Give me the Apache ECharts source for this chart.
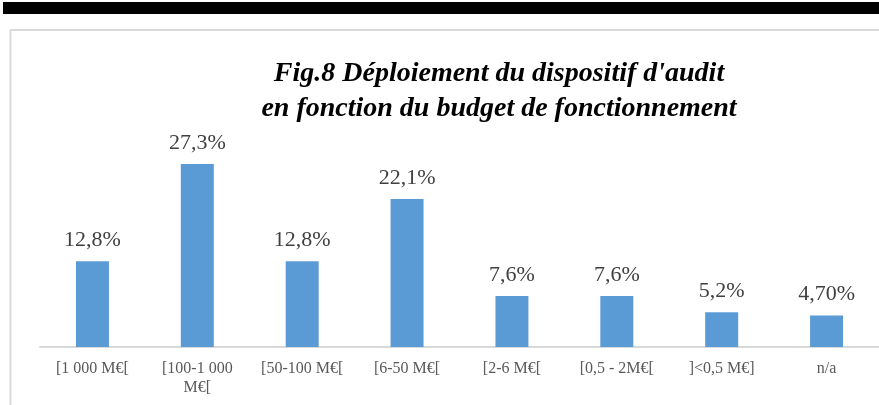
<!DOCTYPE html>
<html>
<head>
<meta charset="utf-8">
<script src="https://cdn.jsdelivr.net/npm/echarts@6/dist/echarts.min.js"></script>
<style>
  html, body { margin: 0; padding: 0; background: #ffffff; }
  #chart { width: 879px; height: 405px; }
</style>
</head>
<body>
<div id="chart"></div>
<script>
// Budget brackets (x axis tick labels)
const categories = [
  '[1 000 M€[',
  '[100-1 000\nM€[',
  '[50-100 M€[',
  '[6-50 M€[',
  '[2-6 M€[',
  '[0,5 - 2M€[',
  ']<0,5 M€]',
  'n/a'
];
// Share of respondents per bracket (%)
const values = [12.8, 27.3, 12.8, 22.1, 7.6, 7.6, 5.2, 4.7];
// Data labels as printed above each bar
const valueLabels = ['12,8%', '27,3%', '12,8%', '22,1%', '7,6%', '7,6%', '5,2%', '4,70%'];

const titleLines = [
  "Fig.8 Déploiement du dispositif d'audit",
  'en fonction du budget de fonctionnement'
];

const serif = '"Liberation Serif", "DejaVu Serif", serif';

const chart = echarts.init(document.getElementById('chart'), null, { renderer: 'canvas' });

chart.setOption({
  animation: false,
  backgroundColor: '#ffffff',
  title: {
    text: titleLines.join('\n'),
    left: 494,
    top: 51,
    textAlign: 'center',
    textStyle: {
      fontFamily: serif,
      fontSize: 28,
      fontWeight: 'bold',
      fontStyle: 'italic',
      color: '#000000',
      lineHeight: 35
    }
  },
  graphic: [
    // dark band across the top of the page
    { type: 'rect', shape: { x: 3, y: 2, width: 876, height: 12 }, style: { fill: '#000000' }, silent: true },
    // chart frame (top and left edges)
    { type: 'line', shape: { x1: 10, y1: 30, x2: 879, y2: 30 }, style: { stroke: '#d9d9d9', lineWidth: 2 }, silent: true },
    { type: 'line', shape: { x1: 10.5, y1: 30, x2: 10.5, y2: 405 }, style: { stroke: '#d9d9d9', lineWidth: 2 }, silent: true }
  ],
  grid: {
    left: 40,
    top: 146,
    width: 842,
    height: 201,
    containLabel: false
  },
  xAxis: {
    type: 'category',
    data: categories,
    axisLine: { lineStyle: { color: '#d9d9d9', width: 2 } },
    axisTick: { show: false },
    axisLabel: {
      fontFamily: serif,
      fontSize: 16,
      color: '#595959',
      lineHeight: 19,
      margin: 12,
      interval: 0
    }
  },
  yAxis: {
    type: 'value',
    min: 0,
    max: 30,
    show: false,
    splitLine: { show: false }
  },
  series: [{
    type: 'bar',
    data: values,
    barWidth: 33,
    itemStyle: { color: '#5b9bd5' },
    label: {
      show: true,
      position: 'top',
      distance: 10,
      fontFamily: serif,
      fontSize: 22,
      color: '#404040',
      formatter: p => valueLabels[p.dataIndex]
    }
  }]
});
</script>
</body>
</html>
